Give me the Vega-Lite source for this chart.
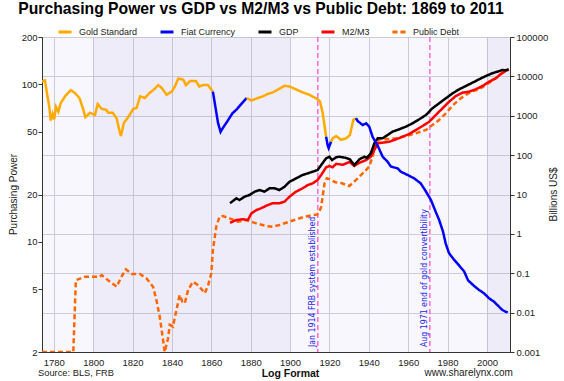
{
  "$schema": "https://vega.github.io/schema/vega-lite/v6.json",
  "width": 468,
  "height": 315,
  "autosize": {"type": "none"},
  "padding": {"left": 42, "top": 37, "right": 54, "bottom": 29},
  "background": "white",
  "title": {
    "text": "Purchasing Power vs GDP vs M2/M3 vs Public Debt: 1869 to 2011",
    "font": "Liberation Sans",
    "fontSize": 15.7,
    "fontWeight": "bold",
    "color": "#000000",
    "anchor": "middle",
    "dx": -15,
    "offset": 6
  },
  "config": {
    "view": {"stroke": "#555555", "fill": "#F8F7FD"},
    "font": "Liberation Sans",
    "axis": {
      "labelFont": "Liberation Sans",
      "labelFontSize": 9.5,
      "labelColor": "#222222",
      "titleFont": "Liberation Sans",
      "titleColor": "#222222",
      "titleFontWeight": "normal",
      "domainColor": "#333333",
      "tickColor": "#333333",
      "gridColor": "#CDCBD8",
      "gridWidth": 1
    },
    "legend": {
      "orient": "none",
      "legendX": 15,
      "legendY": -13,
      "direction": "horizontal",
      "columns": 5,
      "symbolType": "stroke",
      "symbolStrokeWidth": 3,
      "symbolSize": 169,
      "labelFontSize": 9,
      "labelFont": "Liberation Sans",
      "labelColor": "#222222",
      "labelOffset": 6,
      "columnPadding": 16,
      "padding": 0,
      "title": null
    }
  },
  "datasets": {
    "bands": [
      {"from": 1800, "to": 1900, "century": "19th"},
      {"from": 2000, "to": 2011.7, "century": "21st"}
    ],
    "events": [
      {"year": 1914.1, "label": "Jan 1914 FRB system established"},
      {"year": 1971.0, "label": "Aug 1971 end of gold convertibility"}
    ],
    "purchasing": [
      {"series": "Gold Standard", "segment": "G1", "year": 1774, "value": 104},
      {"series": "Gold Standard", "segment": "G1", "year": 1775.5, "value": 106},
      {"series": "Gold Standard", "segment": "G1", "year": 1776.4, "value": 90},
      {"series": "Gold Standard", "segment": "G1", "year": 1777.7, "value": 72},
      {"series": "Gold Standard", "segment": "G1", "year": 1778.4, "value": 59},
      {"series": "Gold Standard", "segment": "G1", "year": 1779.4, "value": 65},
      {"series": "Gold Standard", "segment": "G1", "year": 1780.2, "value": 60},
      {"series": "Gold Standard", "segment": "G1", "year": 1781.1, "value": 72},
      {"series": "Gold Standard", "segment": "G1", "year": 1782.3, "value": 67},
      {"series": "Gold Standard", "segment": "G1", "year": 1783.5, "value": 76},
      {"series": "Gold Standard", "segment": "G1", "year": 1785.7, "value": 84},
      {"series": "Gold Standard", "segment": "G1", "year": 1788.6, "value": 92},
      {"series": "Gold Standard", "segment": "G1", "year": 1790.8, "value": 88},
      {"series": "Gold Standard", "segment": "G1", "year": 1793, "value": 82},
      {"series": "Gold Standard", "segment": "G1", "year": 1794.7, "value": 71},
      {"series": "Gold Standard", "segment": "G1", "year": 1796, "value": 62},
      {"series": "Gold Standard", "segment": "G1", "year": 1798.4, "value": 66},
      {"series": "Gold Standard", "segment": "G1", "year": 1800.9, "value": 64},
      {"series": "Gold Standard", "segment": "G1", "year": 1802.3, "value": 75},
      {"series": "Gold Standard", "segment": "G1", "year": 1804.3, "value": 70},
      {"series": "Gold Standard", "segment": "G1", "year": 1806.6, "value": 69},
      {"series": "Gold Standard", "segment": "G1", "year": 1807.7, "value": 66},
      {"series": "Gold Standard", "segment": "G1", "year": 1809.9, "value": 66},
      {"series": "Gold Standard", "segment": "G1", "year": 1811.9, "value": 61},
      {"series": "Gold Standard", "segment": "G1", "year": 1813.3, "value": 51},
      {"series": "Gold Standard", "segment": "G1", "year": 1814.1, "value": 47},
      {"series": "Gold Standard", "segment": "G1", "year": 1815.6, "value": 57},
      {"series": "Gold Standard", "segment": "G1", "year": 1817.8, "value": 62},
      {"series": "Gold Standard", "segment": "G1", "year": 1820.4, "value": 70},
      {"series": "Gold Standard", "segment": "G1", "year": 1822.1, "value": 71},
      {"series": "Gold Standard", "segment": "G1", "year": 1823.8, "value": 84},
      {"series": "Gold Standard", "segment": "G1", "year": 1826.3, "value": 82},
      {"series": "Gold Standard", "segment": "G1", "year": 1828.5, "value": 88},
      {"series": "Gold Standard", "segment": "G1", "year": 1830.5, "value": 92},
      {"series": "Gold Standard", "segment": "G1", "year": 1833.1, "value": 99},
      {"series": "Gold Standard", "segment": "G1", "year": 1834.8, "value": 95},
      {"series": "Gold Standard", "segment": "G1", "year": 1837.3, "value": 86},
      {"series": "Gold Standard", "segment": "G1", "year": 1839.9, "value": 90},
      {"series": "Gold Standard", "segment": "G1", "year": 1841.5, "value": 97},
      {"series": "Gold Standard", "segment": "G1", "year": 1843.2, "value": 109},
      {"series": "Gold Standard", "segment": "G1", "year": 1845.8, "value": 107},
      {"series": "Gold Standard", "segment": "G1", "year": 1847.1, "value": 99},
      {"series": "Gold Standard", "segment": "G1", "year": 1849.2, "value": 105},
      {"series": "Gold Standard", "segment": "G1", "year": 1852.2, "value": 105},
      {"series": "Gold Standard", "segment": "G1", "year": 1853.9, "value": 97},
      {"series": "Gold Standard", "segment": "G1", "year": 1855.8, "value": 99},
      {"series": "Gold Standard", "segment": "G1", "year": 1858.3, "value": 99},
      {"series": "Gold Standard", "segment": "G1", "year": 1860.8, "value": 90},
      {"series": "Fiat Currency", "segment": "F1", "year": 1860.8, "value": 90},
      {"series": "Fiat Currency", "segment": "F1", "year": 1863.4, "value": 57},
      {"series": "Fiat Currency", "segment": "F1", "year": 1864.7, "value": 50},
      {"series": "Fiat Currency", "segment": "F1", "year": 1865.9, "value": 53},
      {"series": "Fiat Currency", "segment": "F1", "year": 1868.4, "value": 59},
      {"series": "Fiat Currency", "segment": "F1", "year": 1870.7, "value": 65.5},
      {"series": "Fiat Currency", "segment": "F1", "year": 1872.7, "value": 69},
      {"series": "Fiat Currency", "segment": "F1", "year": 1875.2, "value": 75},
      {"series": "Fiat Currency", "segment": "F1", "year": 1878, "value": 82},
      {"series": "Gold Standard", "segment": "G2", "year": 1878, "value": 82},
      {"series": "Gold Standard", "segment": "G2", "year": 1880.3, "value": 79},
      {"series": "Gold Standard", "segment": "G2", "year": 1883.7, "value": 82},
      {"series": "Gold Standard", "segment": "G2", "year": 1886.2, "value": 84},
      {"series": "Gold Standard", "segment": "G2", "year": 1888.7, "value": 87},
      {"series": "Gold Standard", "segment": "G2", "year": 1891.2, "value": 89},
      {"series": "Gold Standard", "segment": "G2", "year": 1893.3, "value": 92},
      {"series": "Gold Standard", "segment": "G2", "year": 1897.2, "value": 98},
      {"series": "Gold Standard", "segment": "G2", "year": 1899.7, "value": 97},
      {"series": "Gold Standard", "segment": "G2", "year": 1903, "value": 93},
      {"series": "Gold Standard", "segment": "G2", "year": 1906.4, "value": 89},
      {"series": "Gold Standard", "segment": "G2", "year": 1909.8, "value": 86},
      {"series": "Gold Standard", "segment": "G2", "year": 1914, "value": 80.5},
      {"series": "Gold Standard", "segment": "G2", "year": 1915.2, "value": 78},
      {"series": "Gold Standard", "segment": "G2", "year": 1916.6, "value": 65.5},
      {"series": "Gold Standard", "segment": "G2", "year": 1918.3, "value": 46.5},
      {"series": "Fiat Currency", "segment": "F2", "year": 1918.3, "value": 46.5},
      {"series": "Fiat Currency", "segment": "F2", "year": 1919.1, "value": 41},
      {"series": "Fiat Currency", "segment": "F2", "year": 1919.6, "value": 39.4},
      {"series": "Fiat Currency", "segment": "F2", "year": 1920.8, "value": 43.3},
      {"series": "Gold Standard", "segment": "G3", "year": 1920.8, "value": 43.3},
      {"series": "Gold Standard", "segment": "G3", "year": 1921.6, "value": 45.4},
      {"series": "Gold Standard", "segment": "G3", "year": 1923.4, "value": 47},
      {"series": "Gold Standard", "segment": "G3", "year": 1925.9, "value": 44.5},
      {"series": "Gold Standard", "segment": "G3", "year": 1928.4, "value": 45.4},
      {"series": "Gold Standard", "segment": "G3", "year": 1930.4, "value": 47.7},
      {"series": "Gold Standard", "segment": "G3", "year": 1932.1, "value": 59.4},
      {"series": "Gold Standard", "segment": "G3", "year": 1933.5, "value": 61},
      {"series": "Fiat Currency", "segment": "F3", "year": 1933.5, "value": 61},
      {"series": "Fiat Currency", "segment": "F3", "year": 1934.3, "value": 58.6},
      {"series": "Fiat Currency", "segment": "F3", "year": 1936.9, "value": 55.2},
      {"series": "Fiat Currency", "segment": "F3", "year": 1938.6, "value": 56.6},
      {"series": "Fiat Currency", "segment": "F3", "year": 1940.2, "value": 54},
      {"series": "Fiat Currency", "segment": "F3", "year": 1941.9, "value": 46.5},
      {"series": "Fiat Currency", "segment": "F3", "year": 1944.5, "value": 40.8},
      {"series": "Fiat Currency", "segment": "F3", "year": 1947, "value": 34.8},
      {"series": "Fiat Currency", "segment": "F3", "year": 1949.5, "value": 32.3},
      {"series": "Fiat Currency", "segment": "F3", "year": 1951.2, "value": 30.1},
      {"series": "Fiat Currency", "segment": "F3", "year": 1954.6, "value": 29.3},
      {"series": "Fiat Currency", "segment": "F3", "year": 1956.3, "value": 27.9},
      {"series": "Fiat Currency", "segment": "F3", "year": 1959.7, "value": 26.6},
      {"series": "Fiat Currency", "segment": "F3", "year": 1963.1, "value": 25.3},
      {"series": "Fiat Currency", "segment": "F3", "year": 1966.4, "value": 23.5},
      {"series": "Fiat Currency", "segment": "F3", "year": 1969, "value": 20.9},
      {"series": "Fiat Currency", "segment": "F3", "year": 1971.5, "value": 18.5},
      {"series": "Fiat Currency", "segment": "F3", "year": 1974, "value": 15.5},
      {"series": "Fiat Currency", "segment": "F3", "year": 1975.7, "value": 13.8},
      {"series": "Fiat Currency", "segment": "F3", "year": 1977.7, "value": 11.6},
      {"series": "Fiat Currency", "segment": "F3", "year": 1979, "value": 9.8},
      {"series": "Fiat Currency", "segment": "F3", "year": 1980.7, "value": 8.5},
      {"series": "Fiat Currency", "segment": "F3", "year": 1983.3, "value": 7.7},
      {"series": "Fiat Currency", "segment": "F3", "year": 1986.2, "value": 7.0},
      {"series": "Fiat Currency", "segment": "F3", "year": 1988.4, "value": 6.5},
      {"series": "Fiat Currency", "segment": "F3", "year": 1990.4, "value": 5.7},
      {"series": "Fiat Currency", "segment": "F3", "year": 1993.5, "value": 5.25},
      {"series": "Fiat Currency", "segment": "F3", "year": 1996, "value": 4.95},
      {"series": "Fiat Currency", "segment": "F3", "year": 1998.5, "value": 4.72},
      {"series": "Fiat Currency", "segment": "F3", "year": 2001, "value": 4.39},
      {"series": "Fiat Currency", "segment": "F3", "year": 2003.6, "value": 4.17},
      {"series": "Fiat Currency", "segment": "F3", "year": 2006.1, "value": 3.88},
      {"series": "Fiat Currency", "segment": "F3", "year": 2007.8, "value": 3.7},
      {"series": "Fiat Currency", "segment": "F3", "year": 2009.5, "value": 3.6},
      {"series": "Fiat Currency", "segment": "F3", "year": 2010.6, "value": 3.58}
    ],
    "billions": [
      {"series": "Public Debt", "year": 1774, "value": 0.001},
      {"series": "Public Debt", "year": 1789.9, "value": 0.001},
      {"series": "Public Debt", "year": 1791.2, "value": 0.067},
      {"series": "Public Debt", "year": 1795.8, "value": 0.082},
      {"series": "Public Debt", "year": 1803.4, "value": 0.082},
      {"series": "Public Debt", "year": 1804.3, "value": 0.09},
      {"series": "Public Debt", "year": 1808.5, "value": 0.061},
      {"series": "Public Debt", "year": 1811.9, "value": 0.0455},
      {"series": "Public Debt", "year": 1814.4, "value": 0.082},
      {"series": "Public Debt", "year": 1816.6, "value": 0.126},
      {"series": "Public Debt", "year": 1819.5, "value": 0.096},
      {"series": "Public Debt", "year": 1823.7, "value": 0.096},
      {"series": "Public Debt", "year": 1827.1, "value": 0.074},
      {"series": "Public Debt", "year": 1830.4, "value": 0.0455},
      {"series": "Public Debt", "year": 1832.1, "value": 0.021},
      {"series": "Public Debt", "year": 1833.8, "value": 0.0079},
      {"series": "Public Debt", "year": 1835.5, "value": 0.002},
      {"series": "Public Debt", "year": 1836.3, "value": 0.001},
      {"series": "Public Debt", "year": 1838, "value": 0.0022},
      {"series": "Public Debt", "year": 1838.9, "value": 0.0049},
      {"series": "Public Debt", "year": 1840.5, "value": 0.0044},
      {"series": "Public Debt", "year": 1842.3, "value": 0.0117},
      {"series": "Public Debt", "year": 1843.9, "value": 0.028},
      {"series": "Public Debt", "year": 1845.3, "value": 0.019},
      {"series": "Public Debt", "year": 1846.5, "value": 0.0172},
      {"series": "Public Debt", "year": 1848.2, "value": 0.0376},
      {"series": "Public Debt", "year": 1850.7, "value": 0.061},
      {"series": "Public Debt", "year": 1853.3, "value": 0.05},
      {"series": "Public Debt", "year": 1856.7, "value": 0.031},
      {"series": "Public Debt", "year": 1858.4, "value": 0.05},
      {"series": "Public Debt", "year": 1860, "value": 0.1},
      {"series": "Public Debt", "year": 1860.8, "value": 0.39},
      {"series": "Public Debt", "year": 1862.5, "value": 1.52},
      {"series": "Public Debt", "year": 1864.2, "value": 2.73},
      {"series": "Public Debt", "year": 1865.9, "value": 2.84},
      {"series": "Public Debt", "year": 1869.3, "value": 2.48},
      {"series": "Public Debt", "year": 1873.5, "value": 2.04},
      {"series": "Public Debt", "year": 1877.7, "value": 2.25},
      {"series": "Public Debt", "year": 1882.8, "value": 1.85},
      {"series": "Public Debt", "year": 1887.9, "value": 1.58},
      {"series": "Public Debt", "year": 1891.2, "value": 1.52},
      {"series": "Public Debt", "year": 1894.6, "value": 1.68},
      {"series": "Public Debt", "year": 1898, "value": 1.92},
      {"series": "Public Debt", "year": 1902.2, "value": 2.25},
      {"series": "Public Debt", "year": 1907.3, "value": 2.73},
      {"series": "Public Debt", "year": 1911.5, "value": 3.0},
      {"series": "Public Debt", "year": 1913.7, "value": 3.1},
      {"series": "Public Debt", "year": 1914.9, "value": 3.66},
      {"series": "Public Debt", "year": 1915.8, "value": 4.9},
      {"series": "Public Debt", "year": 1917.5, "value": 19.2},
      {"series": "Public Debt", "year": 1918.6, "value": 25.8},
      {"series": "Public Debt", "year": 1920, "value": 24.5},
      {"series": "Public Debt", "year": 1923, "value": 20.5},
      {"series": "Public Debt", "year": 1926, "value": 19.5},
      {"series": "Public Debt", "year": 1930.1, "value": 16.4},
      {"series": "Public Debt", "year": 1933.5, "value": 23.4},
      {"series": "Public Debt", "year": 1936.9, "value": 34.5},
      {"series": "Public Debt", "year": 1940.2, "value": 51},
      {"series": "Public Debt", "year": 1941.9, "value": 91},
      {"series": "Public Debt", "year": 1943.6, "value": 200},
      {"series": "Public Debt", "year": 1945.3, "value": 252},
      {"series": "Public Debt", "year": 1948.7, "value": 252},
      {"series": "Public Debt", "year": 1953.8, "value": 267},
      {"series": "Public Debt", "year": 1958.8, "value": 306},
      {"series": "Public Debt", "year": 1963.9, "value": 358},
      {"series": "Public Debt", "year": 1969, "value": 435},
      {"series": "Public Debt", "year": 1972.3, "value": 582},
      {"series": "Public Debt", "year": 1975.7, "value": 780},
      {"series": "Public Debt", "year": 1979.1, "value": 1150},
      {"series": "Public Debt", "year": 1982.5, "value": 1800},
      {"series": "Public Debt", "year": 1985.9, "value": 2600},
      {"series": "Public Debt", "year": 1989.3, "value": 3400},
      {"series": "Public Debt", "year": 1992.6, "value": 4200},
      {"series": "Public Debt", "year": 1996, "value": 4700},
      {"series": "Public Debt", "year": 1999.4, "value": 6000},
      {"series": "Public Debt", "year": 2002.7, "value": 7800},
      {"series": "Public Debt", "year": 2006.1, "value": 10500},
      {"series": "Public Debt", "year": 2008.6, "value": 13000},
      {"series": "Public Debt", "year": 2011, "value": 15000},
      {"series": "M2/M3", "year": 1869.5, "value": 1.9},
      {"series": "M2/M3", "year": 1872.7, "value": 2.25},
      {"series": "M2/M3", "year": 1876, "value": 2.35},
      {"series": "M2/M3", "year": 1878.6, "value": 2.25},
      {"series": "M2/M3", "year": 1880.3, "value": 3.3},
      {"series": "M2/M3", "year": 1882.8, "value": 4.0},
      {"series": "M2/M3", "year": 1885.4, "value": 4.5},
      {"series": "M2/M3", "year": 1888.7, "value": 5.4},
      {"series": "M2/M3", "year": 1891.2, "value": 6.0},
      {"series": "M2/M3", "year": 1894.6, "value": 6.0},
      {"series": "M2/M3", "year": 1897.2, "value": 6.6},
      {"series": "M2/M3", "year": 1899.7, "value": 8.8},
      {"series": "M2/M3", "year": 1903, "value": 11.8},
      {"series": "M2/M3", "year": 1906.4, "value": 14.4},
      {"series": "M2/M3", "year": 1909, "value": 17.4},
      {"series": "M2/M3", "year": 1911.5, "value": 19.2},
      {"series": "M2/M3", "year": 1914, "value": 23.4},
      {"series": "M2/M3", "year": 1915.8, "value": 31.3},
      {"series": "M2/M3", "year": 1918.3, "value": 49},
      {"series": "M2/M3", "year": 1920, "value": 53},
      {"series": "M2/M3", "year": 1921.5, "value": 49},
      {"series": "M2/M3", "year": 1923.4, "value": 60},
      {"series": "M2/M3", "year": 1926.8, "value": 57},
      {"series": "M2/M3", "year": 1930.2, "value": 67},
      {"series": "M2/M3", "year": 1932.6, "value": 53},
      {"series": "M2/M3", "year": 1935.2, "value": 64},
      {"series": "M2/M3", "year": 1938.6, "value": 75},
      {"series": "M2/M3", "year": 1941, "value": 91},
      {"series": "M2/M3", "year": 1942.8, "value": 135},
      {"series": "M2/M3", "year": 1944.5, "value": 200},
      {"series": "M2/M3", "year": 1947, "value": 207},
      {"series": "M2/M3", "year": 1950.4, "value": 219},
      {"series": "M2/M3", "year": 1953.8, "value": 252},
      {"series": "M2/M3", "year": 1957.2, "value": 294},
      {"series": "M2/M3", "year": 1960.5, "value": 344},
      {"series": "M2/M3", "year": 1963.9, "value": 435},
      {"series": "M2/M3", "year": 1967.3, "value": 550},
      {"series": "M2/M3", "year": 1970.7, "value": 706},
      {"series": "M2/M3", "year": 1974, "value": 1045},
      {"series": "M2/M3", "year": 1977.4, "value": 1545},
      {"series": "M2/M3", "year": 1980.8, "value": 2275},
      {"series": "M2/M3", "year": 1984.2, "value": 3170},
      {"series": "M2/M3", "year": 1987.5, "value": 3850},
      {"series": "M2/M3", "year": 1990.9, "value": 4080},
      {"series": "M2/M3", "year": 1994.3, "value": 4700},
      {"series": "M2/M3", "year": 1997.7, "value": 5700},
      {"series": "M2/M3", "year": 2001.1, "value": 7330},
      {"series": "M2/M3", "year": 2004.5, "value": 8930},
      {"series": "M2/M3", "year": 2007, "value": 11500},
      {"series": "M2/M3", "year": 2009.5, "value": 13700},
      {"series": "M2/M3", "year": 2011, "value": 15000},
      {"series": "GDP", "year": 1869.5, "value": 6.0},
      {"series": "GDP", "year": 1872.7, "value": 8.0},
      {"series": "GDP", "year": 1874.3, "value": 7.25},
      {"series": "GDP", "year": 1876.9, "value": 8.8},
      {"series": "GDP", "year": 1879.4, "value": 9.7},
      {"series": "GDP", "year": 1882, "value": 11.8},
      {"series": "GDP", "year": 1884.5, "value": 13},
      {"series": "GDP", "year": 1887, "value": 11.8},
      {"series": "GDP", "year": 1889.6, "value": 14.4},
      {"series": "GDP", "year": 1892.1, "value": 14.4},
      {"series": "GDP", "year": 1894.6, "value": 13},
      {"series": "GDP", "year": 1897.2, "value": 15.8},
      {"series": "GDP", "year": 1899.7, "value": 21},
      {"series": "GDP", "year": 1903.1, "value": 25.8},
      {"series": "GDP", "year": 1906.4, "value": 31.3},
      {"series": "GDP", "year": 1909, "value": 34.5},
      {"series": "GDP", "year": 1911.5, "value": 37.9},
      {"series": "GDP", "year": 1914, "value": 41.9},
      {"series": "GDP", "year": 1915.8, "value": 56},
      {"series": "GDP", "year": 1918.3, "value": 83},
      {"series": "GDP", "year": 1920, "value": 91},
      {"series": "GDP", "year": 1921.3, "value": 75},
      {"series": "GDP", "year": 1923.4, "value": 88},
      {"series": "GDP", "year": 1925, "value": 91},
      {"series": "GDP", "year": 1928.4, "value": 85},
      {"series": "GDP", "year": 1930.4, "value": 78},
      {"series": "GDP", "year": 1932.6, "value": 56},
      {"series": "GDP", "year": 1935.2, "value": 78},
      {"series": "GDP", "year": 1937.7, "value": 91},
      {"series": "GDP", "year": 1939, "value": 85},
      {"series": "GDP", "year": 1941, "value": 111},
      {"series": "GDP", "year": 1942.8, "value": 200},
      {"series": "GDP", "year": 1944.5, "value": 267},
      {"series": "GDP", "year": 1947, "value": 267},
      {"series": "GDP", "year": 1949.5, "value": 324},
      {"series": "GDP", "year": 1952, "value": 394},
      {"series": "GDP", "year": 1955.4, "value": 453},
      {"series": "GDP", "year": 1958.8, "value": 527},
      {"series": "GDP", "year": 1962.2, "value": 643},
      {"series": "GDP", "year": 1965.6, "value": 813},
      {"series": "GDP", "year": 1969, "value": 1045},
      {"series": "GDP", "year": 1972.3, "value": 1545},
      {"series": "GDP", "year": 1975.7, "value": 2070},
      {"series": "GDP", "year": 1979.1, "value": 2770},
      {"series": "GDP", "year": 1982.5, "value": 3700},
      {"series": "GDP", "year": 1985.9, "value": 4700},
      {"series": "GDP", "year": 1989.3, "value": 5700},
      {"series": "GDP", "year": 1992.6, "value": 6900},
      {"series": "GDP", "year": 1996, "value": 8430},
      {"series": "GDP", "year": 1999.4, "value": 10200},
      {"series": "GDP", "year": 2002.7, "value": 12000},
      {"series": "GDP", "year": 2005.3, "value": 13150},
      {"series": "GDP", "year": 2007.8, "value": 14500},
      {"series": "GDP", "year": 2009.5, "value": 14300},
      {"series": "GDP", "year": 2011, "value": 15100}
    ]
  },
  "layer": [
    {
      "data": {"name": "bands"},
      "mark": {"type": "rect", "fill": "#876DD8", "opacity": 0.08},
      "encoding": {
        "x": {
          "field": "from",
          "type": "quantitative",
          "title": "Log Format",
          "scale": {"domain": [1774, 2011.7], "nice": false, "zero": false},
          "axis": {
            "title": "Log Format",
            "titleFontWeight": "bold",
            "titleFontSize": 10.5,
            "titleColor": "#111111",
            "titleX": 248,
            "titleY": 16,
            "titleBaseline": "top",
            "values": [1780, 1790, 1800, 1810, 1820, 1830, 1840, 1850, 1860, 1870, 1880, 1890, 1900, 1910, 1920, 1930, 1940, 1950, 1960, 1970, 1980, 1990, 2000, 2010],
            "format": "d",
            "labelExpr": "datum.value % 20 === 0 ? datum.label : ''",
            "tickOpacity": {"condition": {"test": "datum.value % 20 === 0", "value": 0}, "value": 1},
            "tickSize": 4,
            "labelPadding": 1,
            "grid": true,
            "labelFlush": false,
            "labelOverlap": false
          }
        },
        "x2": {"field": "to"}
      }
    },
    {
      "data": {"name": "events"},
      "mark": {"type": "rule", "color": "#FF44CC", "strokeDash": [5, 3], "strokeWidth": 1.2},
      "encoding": {
        "x": {"field": "year", "type": "quantitative", "title": "Log Format"}
      }
    },
    {
      "layer": [
        {
          "data": {"name": "billions"},
          "mark": {"type": "line", "strokeWidth": 2.5, "clip": true},
          "encoding": {
            "x": {"field": "year", "type": "quantitative", "title": "Log Format"},
            "y": {
              "field": "value",
              "type": "quantitative",
              "title": "Billions US$",
              "scale": {"type": "log", "domain": [0.001, 100000], "nice": false},
              "axis": {
                "orient": "right",
                "title": "Billions US$",
                "titleFontSize": 10,
                "titleAngle": 270,
                "titleBaseline": "top",
                "titleX": 38,
                "titleY": 157,
                "values": [0.001, 0.01, 0.1, 1, 10, 100, 1000, 10000, 100000],
                "format": "~g",
                "grid": true,
                "tickSize": 4,
                "labelPadding": 2
              }
            },
            "color": {
              "field": "series",
              "type": "nominal",
              "scale": {
                "domain": ["Gold Standard", "Fiat Currency", "GDP", "M2/M3", "Public Debt"],
                "range": ["#FFAA00", "#0000FF", "#000000", "#FF0000", "#FF6600"]
              }
            },
            "strokeDash": {
              "field": "series",
              "type": "nominal",
              "scale": {
                "domain": ["Gold Standard", "Fiat Currency", "GDP", "M2/M3", "Public Debt"],
                "range": [[1, 0], [1, 0], [1, 0], [1, 0], [5, 3]]
              }
            }
          }
        },
        {
          "data": {"name": "events"},
          "mark": {
            "type": "text",
            "angle": 270,
            "align": "left",
            "baseline": "bottom",
            "dx": 5,
            "dy": -1,
            "font": "DejaVu Sans Condensed, Liberation Sans",
            "fontSize": 8.7,
            "color": "#2222EE"
          },
          "encoding": {
            "x": {"field": "year", "type": "quantitative", "title": "Log Format"},
            "y": {"datum": 0.001, "title": "Billions US$"},
            "text": {"field": "label"}
          }
        },
        {
          "data": {"values": [{"note": "Source: BLS, FRB"}]},
          "mark": {"type": "text", "align": "left", "baseline": "middle", "dy": 21, "fontSize": 9.3, "color": "#222222"},
          "encoding": {
            "x": {"datum": 1772, "title": "Log Format"},
            "y": {"datum": 0.001, "title": "Billions US$"},
            "text": {"field": "note"}
          }
        },
        {
          "data": {"values": [{"note": "www.sharelynx.com"}]},
          "mark": {"type": "text", "align": "right", "baseline": "middle", "dy": 21, "fontSize": 10, "color": "#222222"},
          "encoding": {
            "x": {"datum": 2013.2, "title": "Log Format"},
            "y": {"datum": 0.001, "title": "Billions US$"},
            "text": {"field": "note"}
          }
        }
      ]
    },
    {
      "data": {"name": "purchasing"},
      "mark": {"type": "line", "strokeWidth": 2.5, "clip": true},
      "encoding": {
        "x": {"field": "year", "type": "quantitative", "title": "Log Format"},
        "y": {
          "field": "value",
          "type": "quantitative",
          "scale": {"type": "log", "domain": [2, 200], "nice": false},
          "axis": {
            "orient": "left",
            "title": "Purchasing Power",
            "titleFontSize": 10,
            "titleBaseline": "top",
            "titleAngle": 270,
            "titleX": -34,
            "titleY": 157,
            "values": [2, 5, 10, 20, 50, 100, 200],
            "format": "~g",
            "grid": false,
            "tickSize": 4,
            "labelPadding": 1
          }
        },
        "color": {"field": "series", "type": "nominal"},
        "strokeDash": {"field": "series", "type": "nominal"},
        "detail": {"field": "segment"}
      }
    }
  ],
  "resolve": {"scale": {"y": "independent"}}
}
